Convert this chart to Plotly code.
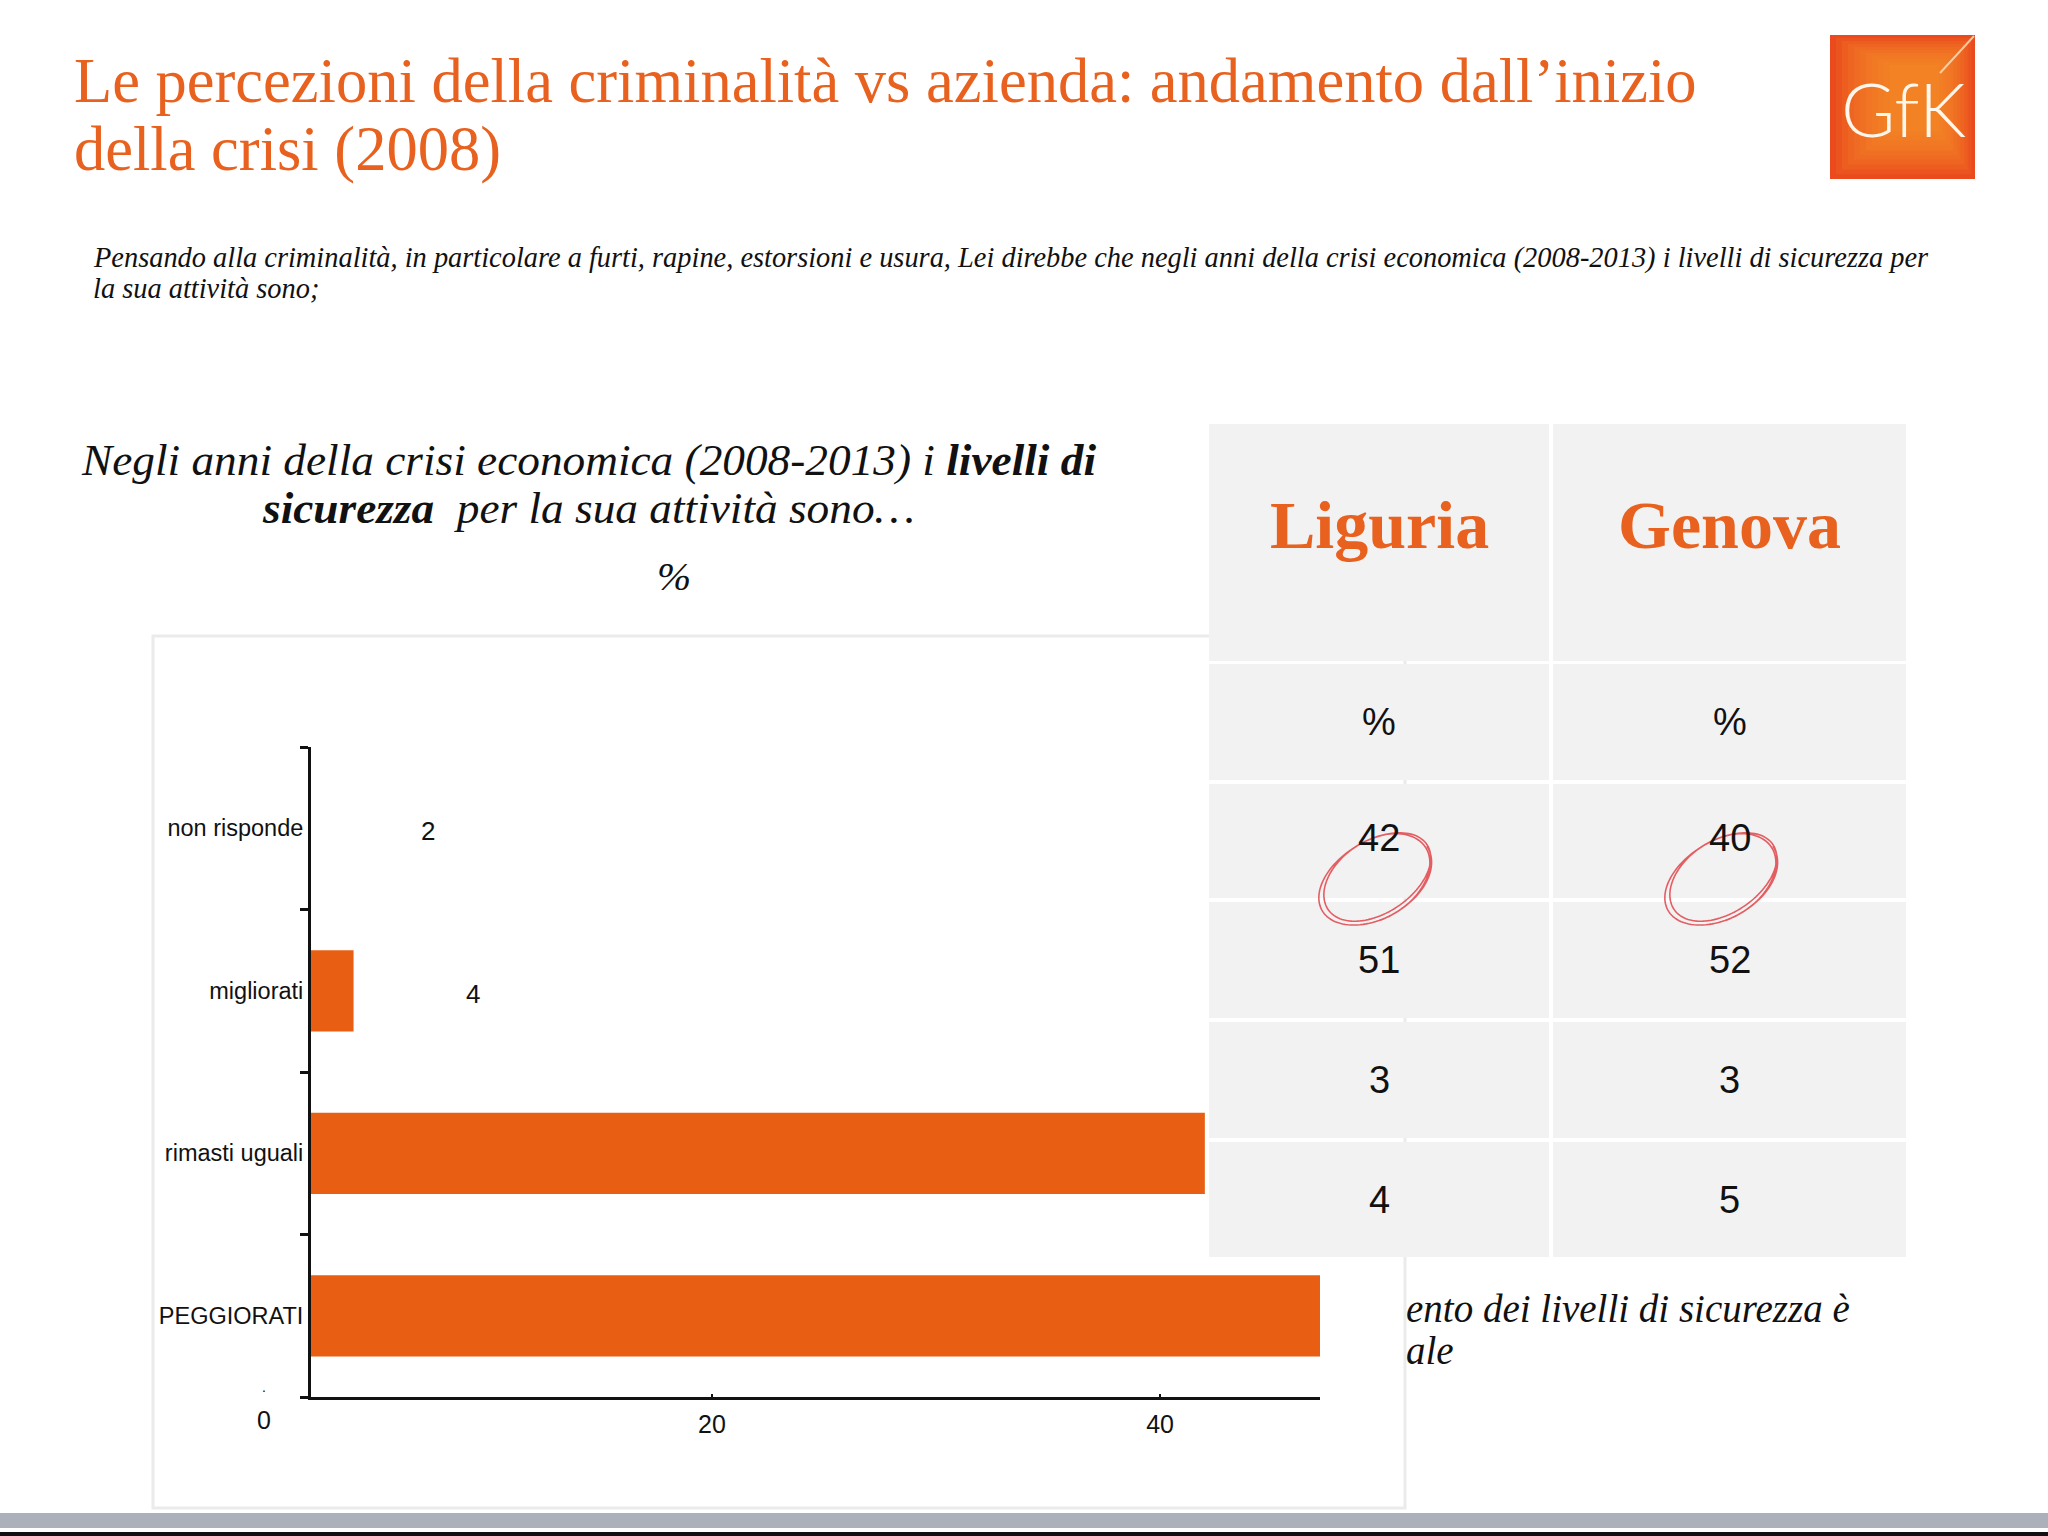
import numpy as np
import plotly.graph_objects as go

W, H = 2048, 1536

# ---------------- data ----------------
categories = ["PEGGIORATI", "rimasti uguali", "migliorati", "non risponde"]
values = [52, 42, 4, 2]
x_ticks = [20, 40]
x_zero_label = 0

table_cols = ["Liguria", "Genova"]
table_unit = "%"
liguria = [42, 51, 3, 4]
genova = [40, 52, 3, 5]

title_lines = ["Le percezioni della criminalità vs azienda: andamento dall\u2019inizio",
               "della crisi (2008)"]
subtitle_lines = ["Pensando alla criminalità, in particolare a furti, rapine, estorsioni e usura, Lei direbbe che negli anni della crisi economica (2008-2013) i livelli di sicurezza per",
                  "la sua attività sono;"]
heading_lines = ["<i>Negli anni della crisi economica (2008-2013) i <b>livelli di</b></i>",
                 "<i><b>sicurezza</b>  per la sua attività sono\u2026</i>"]
side_lines = ["<i>ento dei livelli di sicurezza è</i>", "<i>ale</i>"]

ORANGE = "#E85F13"
TITLE_OR = "#E8611E"
SERIF = "Liberation Serif"
SANS = "Liberation Sans"


def px(x):
    return x / W


def py(y):
    return 1 - y / H


# axis geometry (pixels)
AX_L, AX_R, AX_T, AX_B = 311, 1320, 747, 1397
XR = [2.1, 47.14]
LABEL_OFFSET = 5.32  # value-label offset, in axis units


def xval_to_paper(v):
    return px(AX_L) + (v - XR[0]) / (XR[1] - XR[0]) * (px(AX_R) - px(AX_L))


fig = go.Figure()
fig.add_trace(go.Bar(
    x=values, y=categories, orientation="h", width=0.5,
    marker=dict(color=ORANGE, line=dict(width=0)),
    hoverinfo="skip", showlegend=False,
))

shapes = []
ann = []

# chart box
shapes.append(dict(type="rect", xref="paper", yref="paper", layer="below",
                   x0=px(153), x1=px(1405), y0=py(1508), y1=py(636),
                   fillcolor="white", line=dict(color="#EBEBEB", width=3)))

# value labels (those falling within the visible axis range)
for c, v in zip(categories, values):
    if v + LABEL_OFFSET <= XR[1]:
        ann.append(dict(x=v + LABEL_OFFSET, y=c, xref="x", yref="y", text=str(v),
                        showarrow=False, xanchor="center", yanchor="middle", yshift=-3,
                        font=dict(family=SANS, size=26, color="#111")))

# "0" tick label, which lies left of the axis start
ann.append(dict(x=xval_to_paper(x_zero_label), y=py(1420), xref="paper", yref="paper",
                text=str(x_zero_label), showarrow=False,
                xanchor="center", yanchor="middle",
                font=dict(family=SANS, size=25, color="#111")))
ann.append(dict(x=xval_to_paper(x_zero_label), y=py(1397), xref="paper", yref="paper",
                text=".", showarrow=False, xanchor="center", yanchor="bottom",
                font=dict(family=SANS, size=14, color="#111")))

# ---------------- table ----------------
col_x = [(1209, 1549), (1553, 1906)]
row_y = [(424, 661), (664, 780), (784, 898), (902, 1018), (1022, 1138), (1142, 1257)]
for (x0, x1) in col_x:
    for (y0, y1) in row_y:
        shapes.append(dict(type="rect", xref="paper", yref="paper", layer="above",
                           x0=px(x0), x1=px(x1), y0=py(y1), y1=py(y0),
                           fillcolor="#F2F2F2", line=dict(width=0)))

for ci, (name, colvals) in enumerate(zip(table_cols, [liguria, genova])):
    cx = (col_x[ci][0] + col_x[ci][1]) / 2
    hy = (row_y[0][0] + row_y[0][1]) / 2 - 18
    ann.append(dict(x=px(cx), y=py(hy), xref="paper", yref="paper", text="<b>%s</b>" % name,
                    showarrow=False, xanchor="center", yanchor="middle",
                    font=dict(family=SERIF, size=68, color=TITLE_OR)))
    cells = [table_unit] + [str(v) for v in colvals]
    for ri, t in enumerate(cells):
        y0, y1 = row_y[ri + 1]
        cy = (y0 + y1) / 2
        if ri == 1:
            cy = y0 + 54
        ann.append(dict(x=px(cx), y=py(cy), xref="paper", yref="paper", text=t,
                        showarrow=False, xanchor="center", yanchor="middle",
                        font=dict(family=SANS, size=38, color="#111")))


# hand-drawn red circles
def scribble(cx, cy, a, b, th, turns=2.3):
    t = np.linspace(0, 2 * np.pi * turns, 260)
    aa = a * (1 + 0.05 * np.sin(t * 0.45))
    bb = b * (1 + 0.06 * np.cos(t * 0.4))
    ex = aa * np.cos(t)
    ey = bb * np.sin(t)
    X = cx + ex * np.cos(th) + ey * np.sin(th)
    Y = cy - ex * np.sin(th) + ey * np.cos(th)
    pts = ["%s%.5f,%.5f" % ("M" if i == 0 else "L", px(x), py(y)) for i, (x, y) in enumerate(zip(X, Y))]
    return " ".join(pts)


for cx in (1376, 1722):
    shapes.append(dict(type="path", xref="paper", yref="paper", layer="above",
                       path=scribble(cx, 878, 60, 38, np.radians(32)),
                       line=dict(color="#E0454B", width=1.6), opacity=0.85))

# ---------------- texts ----------------
ann.append(dict(x=px(72), y=py(81), xref="paper", yref="paper", text=title_lines[0],
                showarrow=False, xanchor="left", yanchor="middle",
                font=dict(family=SERIF, size=62.5, color=TITLE_OR)))
ann.append(dict(x=px(72), y=py(149), xref="paper", yref="paper", text=title_lines[1],
                showarrow=False, xanchor="left", yanchor="middle",
                font=dict(family=SERIF, size=62.5, color=TITLE_OR)))
for i, s in enumerate(subtitle_lines):
    ann.append(dict(x=px(91), y=py(258 + 30 * i), xref="paper", yref="paper",
                    text="<i>%s</i>" % s, showarrow=False, xanchor="left", yanchor="middle",
                    font=dict(family=SERIF, size=28.4, color="#111")))
for i, s in enumerate(heading_lines):
    ann.append(dict(x=px(588), y=py(460 + 48 * i), xref="paper", yref="paper",
                    text=s, showarrow=False, xanchor="center", yanchor="middle",
                    font=dict(family=SERIF, size=45.3, color="#111")))
ann.append(dict(x=px(674), y=py(576), xref="paper", yref="paper", text="<i>%</i>",
                showarrow=False, xanchor="center", yanchor="middle",
                font=dict(family=SERIF, size=41, color="#111")))
for i, s in enumerate(side_lines):
    ann.append(dict(x=px(1404), y=py(1308 + 42 * i), xref="paper", yref="paper",
                    text=s, showarrow=False, xanchor="left", yanchor="middle",
                    font=dict(family=SERIF, size=39, color="#111")))

# ---------------- logo ----------------
LX0, LX1, LY0, LY1 = 1830, 1975, 35, 179
shapes.append(dict(type="rect", xref="paper", yref="paper", layer="above",
                   x0=px(LX0), x1=px(LX1), y0=py(LY1), y1=py(LY0),
                   fillcolor="#EA4A1E", line=dict(width=0)))
for k in range(10):
    ins = 6 + k * 6
    shapes.append(dict(type="rect", xref="paper", yref="paper", layer="above",
                       x0=px(LX0 + ins), x1=px(LX1 - ins * 0.6), y0=py(LY1 - ins * 0.8),
                       y1=py(LY0 + ins * 0.5),
                       fillcolor="#F8952A", opacity=0.14, line=dict(width=0)))
shapes.append(dict(type="line", xref="paper", yref="paper", layer="above",
                   x0=px(1974), y0=py(36), x1=px(1940), y1=py(73),
                   line=dict(color="#FFE3C0", width=2), opacity=0.8))
ann.append(dict(x=px(1903), y=py(109), xref="paper", yref="paper", text="GfK",
                showarrow=False, xanchor="center", yanchor="middle",
                font=dict(family="Lato", size=74, color="#FFF6EC", weight=300)))

# ---------------- bottom bars ----------------
shapes.append(dict(type="rect", xref="paper", yref="paper", layer="above",
                   x0=0, x1=1, y0=py(1528), y1=py(1513),
                   fillcolor="#ABB0BB", line=dict(width=0)))
shapes.append(dict(type="rect", xref="paper", yref="paper", layer="above",
                   x0=0, x1=1, y0=0, y1=py(1532),
                   fillcolor="#111111", line=dict(width=0)))

fig.update_layout(
    width=W, height=H, margin=dict(l=0, r=0, t=0, b=0),
    paper_bgcolor="white", plot_bgcolor="rgba(0,0,0,0)",
    showlegend=False, shapes=shapes, annotations=ann,
    xaxis=dict(domain=[px(AX_L), px(AX_R)], range=XR, tickvals=x_ticks,
               ticks="inside", ticklen=3, tickwidth=2, tickcolor="#111",
               showline=True, linecolor="#111", linewidth=3, showgrid=False, zeroline=False,
               ticklabelstandoff=3,
               tickfont=dict(family=SANS, size=25, color="#111"), fixedrange=True),
    yaxis=dict(domain=[py(AX_B), py(AX_T)], type="category", categoryorder="array",
               categoryarray=categories, range=[-0.5, 3.5], tickson="boundaries",
               ticks="outside", ticklen=8, tickwidth=3, tickcolor="#111",
               showline=True, linecolor="#111", linewidth=3, showgrid=False, zeroline=False,
               tickfont=dict(family=SANS, size=23.5, color="#111"), fixedrange=True),
)

fig.write_html("out.html", config={"displayModeBar": False},
               post_script="document.body.style.margin='0';document.body.style.overflow='hidden';")
